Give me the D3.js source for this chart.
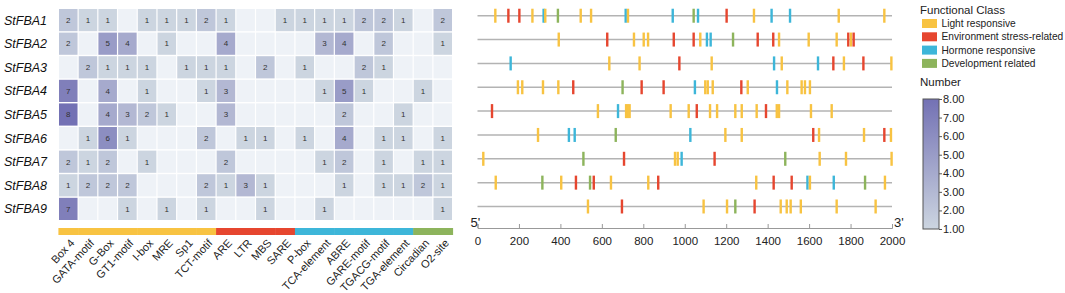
<!DOCTYPE html>
<html>
<head>
<meta charset="utf-8">
<script src="https://cdn.jsdelivr.net/npm/d3@7"></script>
<style>
  body { margin: 0; background: #fff; }
  svg { font-family: Arial, "Liberation Sans", sans-serif; }
</style>
</head>
<body>
<div id="chart"></div>
<script>
// ### DATA ###
const genes = ['StFBA1','StFBA2','StFBA3','StFBA4','StFBA5','StFBA6','StFBA7','StFBA8','StFBA9'];

const elements = ['Box 4','GATA-motif','G-Box','GT1-motif','I-box','MRE','Sp1','TCT-motif',
  'ARE','LTR','MBS','SARE',
  'P-box','TCA-element','ABRE','GARE-motif','TGACG-motif','TGA-element',
  'Circadian','O2-site'];

// functional class index of each element
const elementClass = [0,0,0,0,0,0,0,0, 1,1,1,1, 2,2,2,2,2,2, 3,3];

const classNames = ['Light responsive','Environment stress-related','Hormone responsive','Development related'];
const classColors = ['#f8c342','#e6462f','#3db6d9','#8db45c'];

// element counts, one row per gene (0 = none)
const counts = [
  [2,1,1,0,1,1,1,2,1,0,0,1,1,1,1,2,2,1,0,2],
  [2,0,5,4,0,1,0,0,4,0,0,0,0,3,4,0,2,0,0,1],
  [0,2,1,1,1,0,1,1,1,0,2,0,1,0,0,2,1,0,0,0],
  [7,0,4,0,1,0,0,1,3,0,0,0,0,1,5,1,0,0,1,0],
  [8,0,4,3,2,1,0,0,3,0,0,0,0,0,2,0,0,1,0,0],
  [0,1,6,1,0,0,0,2,0,1,1,0,1,0,4,0,1,1,0,1],
  [2,1,2,0,1,0,0,0,2,0,0,0,0,1,2,0,1,0,1,1],
  [1,2,2,2,0,0,0,2,1,3,1,0,0,0,1,0,1,1,2,1],
  [7,0,0,1,0,1,0,1,0,0,1,0,0,1,0,0,0,0,0,1]
];

// promoter sites per gene: [position (bp), functional class index]
const sites = [
  [[86,0],[149,1],[202,1],[265,0],[319,2],[327,0],[388,3],[498,0],[548,0],[715,2],[726,0],[942,2],[1043,3],[1064,2],[1202,1],[1334,0],[1419,2],[1508,2],[1743,0],[1963,0]],
  [[392,0],[626,1],[755,0],[802,0],[823,0],[947,1],[1043,1],[1075,0],[1107,2],[1125,2],[1233,3],[1352,1],[1427,1],[1455,0],[1598,0],[1733,0],[1789,1],[1802,0],[1815,1]],
  [[160,2],[636,0],[782,0],[974,1],[1130,0],[1431,2],[1468,0],[1643,2],[1717,1],[1768,0],[1862,1],[1997,0]],
  [[195,0],[216,0],[316,0],[390,0],[462,1],[700,3],[792,1],[898,1],[1049,2],[1099,0],[1111,0],[1135,0],[1273,1],[1304,0],[1445,2],[1495,0],[1564,0],[1580,0],[1604,0]],
  [[70,1],[581,0],[678,2],[717,0],[725,0],[734,0],[932,0],[1019,0],[1058,1],[1122,0],[1156,0],[1244,0],[1275,0],[1347,0],[1392,1],[1444,0],[1455,0],[1609,0],[1709,0]],
  [[292,0],[441,2],[469,2],[667,3],[1027,2],[1196,0],[1275,0],[1620,1],[1648,0],[1865,0],[1963,1],[1995,0]],
  [[28,0],[511,3],[707,1],[953,0],[966,0],[985,2],[1144,1],[1485,3],[1651,0],[1778,0],[1998,0]],
  [[88,0],[313,3],[404,0],[475,1],[543,3],[561,1],[644,0],[824,0],[872,1],[1345,0],[1429,1],[1516,1],[1592,2],[1604,0],[1719,2],[1870,3],[1966,0]],
  [[533,0],[697,1],[1091,0],[1204,0],[1244,3],[1337,1],[1463,0],[1492,0],[1511,0],[1560,0],[1733,0],[1921,0]]
];

const lengthTicks = [0,200,400,600,800,1000,1200,1400,1600,1800,2000];
const numberTicks = [1,2,3,4,5,6,7,8];

// ### SETUP ###
const width = 1065, height = 293;
const svg = d3.select('#chart').append('svg')
  .attr('width', width)
  .attr('height', height);

const emptyColor = '#eef2f7';
const color = d3.scaleLinear()
  .domain([1, 8])
  .range(['#ccd5e0', '#7371b4']);

// ### HEATMAP ###
const x = d3.scaleBand()
  .domain(elements)
  .range([59, 452])
  .paddingInner(0.06);

const y = d3.scaleBand()
  .domain(genes)
  .range([9, 220])
  .paddingInner(0.06);

const heat = svg.append('g').classed('heatmap', true);

const cells = heat.selectAll('g.row')
  .data(counts)
  .join('g')
  .attr('class', 'row')
  .attr('transform', (d, i) => `translate(0, ${y(genes[i])})`)
  .selectAll('g.cell')
  .data(d => d.map((v, j) => ({v, j})))
  .join('g')
  .attr('class', 'cell')
  .attr('transform', d => `translate(${x(elements[d.j])}, 0)`);

cells.append('rect')
  .attr('width', x.bandwidth())
  .attr('height', y.bandwidth())
  .attr('fill', d => d.v > 0 ? color(d.v) : emptyColor);

cells.filter(d => d.v > 0).append('text')
  .attr('x', x.bandwidth() / 2)
  .attr('y', y.bandwidth() / 2)
  .attr('dy', '0.35em')
  .attr('text-anchor', 'middle')
  .attr('font-size', 8)
  .attr('fill', '#333')
  .text(d => d.v);

heat.selectAll('text.gene')
  .data(genes)
  .join('text')
  .attr('class', 'gene')
  .attr('x', 4)
  .attr('y', d => y(d) + y.bandwidth() / 2)
  .attr('dy', '0.36em')
  .attr('font-size', 12.5)
  .attr('font-style', 'italic')
  .attr('fill', '#111')
  .text(d => d);

// class colour bar under the heatmap
const step = x.step();
heat.selectAll('rect.classbar')
  .data(elements)
  .join('rect')
  .attr('class', 'classbar')
  .attr('x', d => x(d) - step * 0.03)
  .attr('y', 228)
  .attr('width', step + 0.5)
  .attr('height', 7)
  .attr('fill', (d, i) => classColors[elementClass[i]]);

heat.selectAll('text.element')
  .data(elements)
  .join('text')
  .attr('class', 'element')
  .attr('transform', d => `translate(${x(d) + x.bandwidth() / 2 + 4}, 241) rotate(-47)`)
  .attr('text-anchor', 'end')
  .attr('dy', '0.35em')
  .attr('font-size', 11)
  .attr('fill', '#222')
  .text(d => d);

// ### PROMOTER SITES ###
const bp = d3.scaleLinear()
  .domain([0, 2000])
  .range([477.5, 892]);

const rowY = d3.scaleBand()
  .domain(genes)
  .range([3.8, 218.4]);

const plot = svg.append('g').classed('sites', true);

const rows = plot.selectAll('g.siterow')
  .data(sites)
  .join('g')
  .attr('class', 'siterow')
  .attr('transform', (d, i) => `translate(0, ${rowY(genes[i]) + rowY.bandwidth() / 2})`);

rows.append('line')
  .attr('x1', bp(0))
  .attr('x2', bp(2000))
  .attr('stroke', '#b3b3b3')
  .attr('stroke-width', 1.5);

rows.selectAll('rect')
  .data(d => d)
  .join('rect')
  .attr('x', d => bp(d[0]) - 1.2)
  .attr('y', -7)
  .attr('width', 2.4)
  .attr('height', 14)
  .attr('fill', d => classColors[d[1]]);

const axis = d3.axisBottom(bp)
  .tickValues(lengthTicks)
  .tickFormat(d3.format('d'))
  .tickSizeInner(-4)
  .tickSizeOuter(-4)
  .tickPadding(9);

const axisG = plot.append('g')
  .attr('transform', 'translate(0, 228)')
  .call(axis);
axisG.select('.domain').attr('stroke', '#999');
axisG.selectAll('.tick line').attr('stroke', '#999');
axisG.selectAll('.tick text')
  .attr('font-size', 11.5)
  .attr('font-family', 'Arial, "Liberation Sans", sans-serif')
  .attr('fill', '#222');

plot.append('text')
  .attr('x', bp(0) - 7)
  .attr('y', 227)
  .attr('font-size', 13)
  .attr('fill', '#222')
  .text("5'");
plot.append('text')
  .attr('x', bp(2000) + 2)
  .attr('y', 227)
  .attr('font-size', 13)
  .attr('fill', '#222')
  .text("3'");

// ### LEGEND ###
const legend = svg.append('g').attr('transform', 'translate(920, 0)');

legend.append('text')
  .attr('x', 0)
  .attr('y', 10)
  .attr('dy', '0.35em')
  .attr('font-size', 11.5)
  .attr('fill', '#222')
  .text('Functional Class');

const items = legend.selectAll('g.item')
  .data(classNames)
  .join('g')
  .attr('class', 'item')
  .attr('transform', (d, i) => `translate(0, ${23.5 + i * 13.3})`);

items.append('rect')
  .attr('x', 2)
  .attr('y', -4.5)
  .attr('width', 15)
  .attr('height', 9)
  .attr('fill', (d, i) => classColors[i]);

items.append('text')
  .attr('x', 21.5)
  .attr('dy', '0.35em')
  .attr('font-size', 10.2)
  .attr('fill', '#222')
  .text(d => d);

legend.append('text')
  .attr('x', 0)
  .attr('y', 82)
  .attr('dy', '0.35em')
  .attr('font-size', 11.5)
  .attr('fill', '#222')
  .text('Number');

const defs = svg.append('defs');
const grad = defs.append('linearGradient')
  .attr('id', 'numgrad')
  .attr('x1', 0).attr('y1', 1)
  .attr('x2', 0).attr('y2', 0);
grad.append('stop').attr('offset', '0%').attr('stop-color', color(1));
grad.append('stop').attr('offset', '100%').attr('stop-color', color(8));

const num = d3.scaleLinear()
  .domain([1, 8])
  .range([229, 99]);

legend.append('rect')
  .attr('x', 3)
  .attr('y', num(8))
  .attr('width', 16)
  .attr('height', num(1) - num(8))
  .attr('fill', 'url(#numgrad)')
  .attr('stroke', '#555')
  .attr('stroke-width', 1);

const numAxis = legend.append('g')
  .attr('transform', 'translate(19, 0)')
  .call(d3.axisRight(num)
    .tickValues(numberTicks)
    .tickFormat(d3.format('.2f'))
    .tickSize(3)
    .tickPadding(1));
numAxis.select('.domain').remove();
numAxis.selectAll('.tick line').attr('stroke', '#555');
numAxis.selectAll('.tick text')
  .attr('font-size', 11)
  .attr('font-family', 'Arial, "Liberation Sans", sans-serif')
  .attr('fill', '#222');
</script>
</body>
</html>
